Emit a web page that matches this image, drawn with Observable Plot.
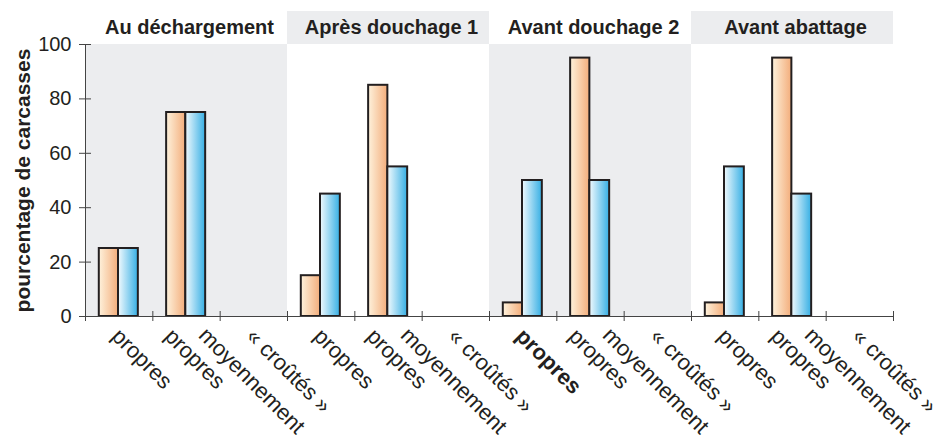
<!DOCTYPE html>
<html><head><meta charset="utf-8">
<script src="https://cdn.jsdelivr.net/npm/d3@7"></script>
<script src="https://cdn.jsdelivr.net/npm/@observablehq/plot@0.6"></script>
<style>body{margin:0;background:#fff} svg{display:block}</style>
</head><body><div id="chart"></div>
<script>
const panels = ["Au déchargement", "Après douchage 1", "Avant douchage 2", "Avant abattage"];
const categories = ["propres", "moyennement\npropres", "« croûtés »"];
const seriesOrange = [25, 75, 0, 15, 85, 0, 5, 95, 0, 5, 95, 0];
const seriesBlue = [25, 75, 0, 45, 55, 0, 50, 50, 0, 55, 45, 0];
const yTicks = [0, 20, 40, 60, 80, 100];
const yLabel = "pourcentage de carcasses";

const nCat = categories.length;
const cells = panels.flatMap((panel, p) => categories.map((cat, c) => ({
  panel, p, c, g: p * nCat + c, lines: cat.split("\n"),
  orange: seriesOrange[p * nCat + c], blue: seriesBlue[p * nCat + c]
})));
const boundaries = d3.range(cells.length + 1);
const panelRows = panels.map((name, p) => ({name, p, x1: p * nCat, x2: (p + 1) * nCat, xm: p * nCat + nCat / 2}));
const yMid = (d3.min(yTicks) + d3.max(yTicks)) / 2;

const ink = "#231f20";
const gray = "#ecedef";
const font = "Liberation Sans, Arial, Helvetica, sans-serif";
const lab = {rotate: 45, textAnchor: "start", lineAnchor: "top", fontSize: 22, fill: ink};

const plot = Plot.plot({
  width: 949, height: 441,
  marginLeft: 85, marginRight: 56, marginTop: 44, marginBottom: 125,
  style: {fontFamily: font, color: ink, background: "#fff"},
  x: {domain: [0, cells.length], axis: null},
  y: {domain: [0, 100], axis: null},
  marks: [
    Plot.rect(panelRows.filter(d => d.p % 2 === 0), {x1: "x1", x2: "x2", y1: 0, y2: 100, fill: gray}),
    Plot.rect(panelRows.filter(d => d.p % 2 === 1), {x1: "x1", x2: "x2", y1: 100, y2: 100, insetTop: -33, fill: gray}),
    Plot.text(panelRows, {x: "xm", y: 100, text: "name", dy: -17, dx: 3, fontSize: 20, fontWeight: "bold", fill: ink}),
    // y axis
    Plot.ruleX([0], {y1: 0, y2: 100, stroke: "#444", strokeWidth: 1}),
    Plot.ruleY(yTicks, {y: d => d, x1: 0, x2: 0, insetLeft: -6, insetRight: -6, stroke: "#444", strokeWidth: 1}),
    Plot.axisY({ticks: yTicks, tickSize: 0, tickPadding: 14, fontSize: 20, label: null, fill: ink}),
    Plot.text([yLabel], {x: 0, y: yMid, text: d => d, rotate: -90, dx: -62, fontSize: 21, fontWeight: "bold", fill: ink}),
    // bars
    Plot.rect(cells.filter(d => d.orange > 0), {x1: "g", x2: d => d.g + 1, y1: 0, y2: "orange", insetLeft: 13.8, insetRight: 34.3, fill: "url(#gOrange)", stroke: ink, strokeWidth: 2}),
    Plot.rect(cells.filter(d => d.blue > 0), {x1: "g", x2: d => d.g + 1, y1: 0, y2: "blue", insetLeft: 33, insetRight: 14.5, fill: "url(#gBlue)", stroke: ink, strokeWidth: 2}),
    // x axis
    Plot.ruleY([0], {x1: 0, x2: cells.length, stroke: "#444", strokeWidth: 1}),
    Plot.ruleX(boundaries, {x: d => d, y1: 0, y2: 0, insetTop: -5, insetBottom: -5, stroke: "#444", strokeWidth: 1}),
    // x labels
    Plot.text(cells.filter(d => d.lines.length === 1 && !(d.p === 2 && d.c === 0)), {...lab, x: d => d.g + 0.5, y: 0, text: d => d.lines[0], dx: 2.5, dy: 10}),
    Plot.text(cells.filter(d => d.p === 2 && d.c === 0), {...lab, x: d => d.g + 0.5, y: 0, text: d => d.lines[0], dx: 2.5, dy: 10, fontWeight: "bold"}),
    Plot.text(cells.filter(d => d.lines.length === 2), {...lab, x: d => d.g + 0.5, y: 0, text: d => d.lines[0], dx: 22, dy: 9}),
    Plot.text(cells.filter(d => d.lines.length === 2), {...lab, x: d => d.g + 0.5, y: 0, text: d => d.lines[1], dx: -12, dy: 10})
  ]
});

const svg = d3.select(plot);
const defs = svg.insert("defs", ":first-child");
const og = defs.append("linearGradient").attr("id", "gOrange").attr("x1", "0%").attr("x2", "100%").attr("y1", "0%").attr("y2", "0%");
og.append("stop").attr("offset", "0%").attr("stop-color", "#fef2dc");
og.append("stop").attr("offset", "100%").attr("stop-color", "#f3ad7b");
const bg = defs.append("linearGradient").attr("id", "gBlue").attr("x1", "0%").attr("x2", "100%").attr("y1", "0%").attr("y2", "0%");
bg.append("stop").attr("offset", "0%").attr("stop-color", "#f2fafe");
bg.append("stop").attr("offset", "100%").attr("stop-color", "#36afe4");

document.getElementById("chart").appendChild(plot);
</script>
</body></html>
